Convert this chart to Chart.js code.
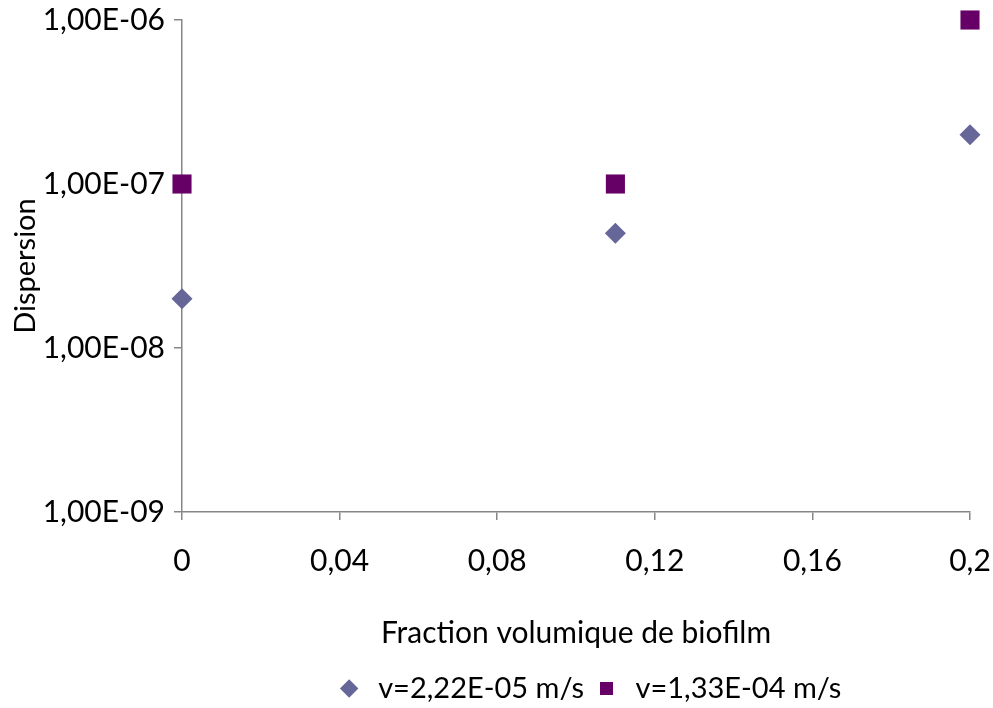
<!DOCTYPE html>
<html>
<head>
<meta charset="utf-8">
<script src="https://cdn.jsdelivr.net/npm/chart.js@4.4.1/dist/chart.umd.min.js"></script>
<style>
    html, body { margin: 0; padding: 0; background: #fff; }
    #wrap { width: 993px; height: 708px; position: relative; }
</style>
</head>
<body>
<div id="wrap"><canvas id="myScatter"></canvas></div>
<script>
// datos
const fractions = [0, 0.11, 0.2];
const dispersionSlow = [2e-8, 5e-8, 2e-7];
const dispersionFast = [1e-7, 1e-7, 1e-6];
const seriesNames = ['v=2,22E-05 m/s', 'v=1,33E-04 m/s'];
const yTickValues = [1e-9, 1e-8, 1e-7, 1e-6];
const yTickLabels = ['1,00E-09', '1,00E-08', '1,00E-07', '1,00E-06'];
const xTickStep = 0.04;

const FONT = 'Lato, "Open Sans", sans-serif';
const AXIS_GREY = '#868686';

const toPoints = (ys) => fractions.map((x, i) => ({ x: x, y: ys[i] }));

// la leyenda del original esta un poco desplazada a la derecha y abajo
const legendShift = {
    id: 'legendShift',
    afterLayout(chart) {
        chart.legend.left += 12;
        chart.legend.right += 12;
        chart.legend.top += 5;
        chart.legend.bottom += 5;
    }
};

const config = {
    type: 'scatter',
    data: {
        datasets: [{
            label: seriesNames[0],
            data: toPoints(dispersionSlow),
            pointStyle: 'rectRot',
            pointRadius: 10.5,
            pointHoverRadius: 10.5,
            backgroundColor: '#666699',
            borderColor: '#666699',
            borderWidth: 0,
            clip: false
        }, {
            label: seriesNames[1],
            data: toPoints(dispersionFast),
            pointStyle: 'rect',
            pointRadius: 13.5,
            pointHoverRadius: 13.5,
            backgroundColor: '#660066',
            borderColor: '#660066',
            borderWidth: 0,
            clip: false
        }]
    },
    options: {
        responsive: false,
        animation: false,
        layout: { padding: { left: 0, right: 23, top: 20, bottom: 0 } },
        plugins: {
            tooltip: { enabled: false },
            legend: {
                position: 'bottom',
                fullSize: false,
                labels: {
                    usePointStyle: true,
                    boxHeight: 13,
                    padding: 8,
                    color: '#000',
                    font: { family: FONT, size: 29 }
                }
            }
        },
        scales: {
            x: {
                type: 'linear',
                min: 0,
                max: 0.2,
                afterFit: (scale) => {
                    scale.height = 149;
                    scale.paddingLeft = 0;
                    scale.paddingRight = 0;
                },
                border: { color: AXIS_GREY, width: 1.5 },
                grid: { drawOnChartArea: false, drawTicks: true, tickLength: 8, color: AXIS_GREY, lineWidth: 1.5 },
                ticks: {
                    stepSize: xTickStep,
                    padding: 23,
                    color: '#000',
                    font: { family: FONT, size: 30 },
                    maxRotation: 0,
                    callback: (v) => String(Math.round(v * 100) / 100).replace('.', ',')
                },
                title: {
                    display: true,
                    text: 'Fraction volumique de biofilm',
                    color: '#000',
                    font: { family: FONT, size: 30 },
                    padding: { top: 0, bottom: 10 }
                }
            },
            y: {
                type: 'logarithmic',
                min: 1e-9,
                max: 1e-6,
                afterFit: (scale) => {
                    scale.width = 182;
                    scale.paddingTop = 0;
                    scale.paddingBottom = 0;
                },
                afterBuildTicks: (scale) => { scale.ticks = yTickValues.map(v => ({ value: v })); },
                border: { color: AXIS_GREY, width: 1.5 },
                grid: { drawOnChartArea: false, drawTicks: true, tickLength: 8, color: AXIS_GREY, lineWidth: 1.5 },
                ticks: {
                    padding: 9,
                    color: '#000',
                    font: { family: FONT, size: 30 },
                    callback: (v) => yTickLabels[yTickValues.findIndex(t => Math.abs(Math.log10(t) - Math.log10(v)) < 1e-6)]
                },
                title: {
                    display: true,
                    text: 'Dispersion',
                    color: '#000',
                    font: { family: FONT, size: 29 },
                    padding: { top: 8, bottom: 0 }
                }
            }
        }
    },
    plugins: [legendShift]
};

const canvas = document.getElementById('myScatter');
canvas.width = 993;
canvas.height = 708;
new Chart(canvas, config);
</script>
</body>
</html>
